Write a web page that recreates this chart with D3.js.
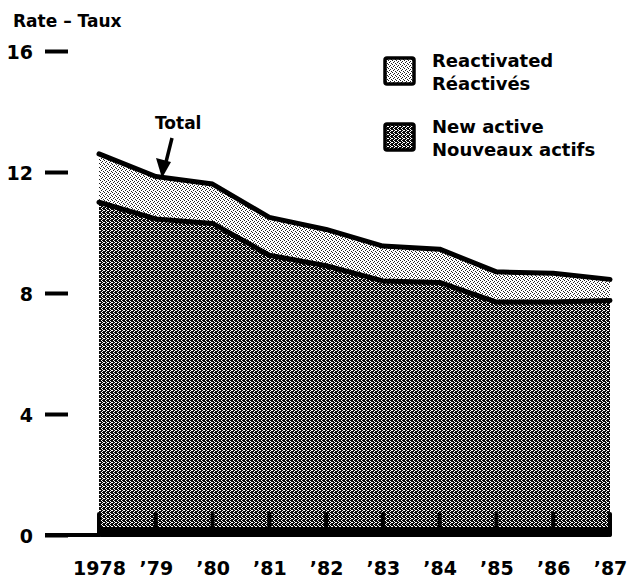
<!DOCTYPE html>
<html>
<head>
<meta charset="utf-8">
<script src="https://cdn.jsdelivr.net/npm/d3@7"></script>
<style>
  html, body { margin: 0; padding: 0; background: #fff; }
  svg { display: block; }
  text { font-family: "DejaVu Sans", sans-serif; font-weight: bold; fill: #000; }
</style>
</head>
<body>
<svg id="chart" width="627" height="580"></svg>
<script>
// data
const years = [1978, 1979, 1980, 1981, 1982, 1983, 1984, 1985, 1986, 1987]
const yearLabels = ['1978', '\u201979', '\u201980', '\u201981', '\u201982', '\u201983', '\u201984', '\u201985', '\u201986', '\u201987']
const newActive = [11.0, 10.45, 10.3, 9.25, 8.9, 8.4, 8.35, 7.7, 7.7, 7.75]
const reactivated = [1.6, 1.4, 1.3, 1.25, 1.2, 1.15, 1.1, 1.0, 0.95, 0.7]
const yTicks = [0, 4, 8, 12, 16]

const svg = d3.select('#chart')

const x = d3.scalePoint().domain(yearLabels).range([99, 610])
const y = d3.scaleLinear().domain([0, 16]).range([535, 51])

// halftone fills
const defs = svg.append('defs')
const pd = defs.append('pattern').attr('id', 'dark').attr('patternUnits', 'userSpaceOnUse').attr('width', 4).attr('height', 4)
pd.append('rect').attr('width', 4).attr('height', 4).attr('fill', '#0a0a0a')
;[[1, 0], [2, 1], [0, 2], [3, 2], [2, 3]].forEach(function (p) {
    pd.append('rect').attr('x', p[0]).attr('y', p[1]).attr('width', 1).attr('height', 1).attr('fill', '#fff')
})
const pl = defs.append('pattern').attr('id', 'light').attr('patternUnits', 'userSpaceOnUse').attr('width', 4).attr('height', 4)
pl.append('rect').attr('width', 4).attr('height', 4).attr('fill', '#fff')
;[[0, 0], [2, 1], [1, 2], [3, 3]].forEach(function (p) {
    pl.append('rect').attr('x', p[0]).attr('y', p[1]).attr('width', 1).attr('height', 1).attr('fill', '#222')
})

const rows = yearLabels.map(function (lab, i) { return { label: lab, newActive: newActive[i], reactivated: reactivated[i] } })
const series = d3.stack().keys(['newActive', 'reactivated'])(rows)

const area = d3.area()
    .x(function (d) { return x(d.data.label) })
    .y0(function (d) { return y(d[0]) })
    .y1(function (d) { return y(d[1]) })

svg.append('g').selectAll('path.band').data(series).join('path').attr('class', 'band')
    .attr('fill', function (d) { return d.key === 'newActive' ? 'url(#dark)' : 'url(#light)' })
    .attr('d', area)

const line = d3.line()
    .x(function (d) { return x(d.data.label) })
    .y(function (d) { return y(d[1]) })

svg.append('g').selectAll('path.edge').data(series).join('path').attr('class', 'edge')
    .attr('fill', 'none').attr('stroke', '#000').attr('stroke-width', 5)
    .attr('stroke-linecap', 'round').attr('stroke-linejoin', 'round')
    .attr('d', function (d) { return line(d) })

// base band under the areas and short year marks
svg.append('line').attr('x1', 45).attr('x2', 100).attr('y1', y(0)).attr('y2', y(0))
    .attr('stroke', '#000').attr('stroke-width', 4)
svg.append('rect').attr('x', x(yearLabels[0]) - 2).attr('y', y(0) - 8)
    .attr('width', x(yearLabels[9]) - x(yearLabels[0]) + 4).attr('height', 10).attr('rx', 4).attr('fill', '#000')
svg.append('g').selectAll('line.ymark').data(yearLabels).join('line').attr('class', 'ymark')
    .attr('x1', function (d) { return x(d) }).attr('x2', function (d) { return x(d) })
    .attr('y1', y(0) - 21).attr('y2', y(0))
    .attr('stroke', '#000').attr('stroke-width', 4).attr('stroke-linecap', 'round')

// y axis
const yAxis = svg.append('g').attr('transform', 'translate(68,0)')
    .call(d3.axisLeft(y).tickValues(yTicks).tickSize(23).tickPadding(12).tickFormat(d3.format('d')))
yAxis.select('.domain').remove()
yAxis.selectAll('.tick line').attr('stroke', '#000').attr('stroke-width', 4)
yAxis.selectAll('.tick text').attr('font-size', 19).attr('dy', '0.38em')
    .style('font-family', '"DejaVu Sans", sans-serif').style('font-weight', 'bold')

// x axis labels
const xAxis = svg.append('g').attr('transform', 'translate(0,' + y(0) + ')')
    .call(d3.axisBottom(x).tickSize(0).tickPadding(0))
xAxis.select('.domain').remove()
xAxis.selectAll('.tick text').attr('y', 40).attr('dy', 0).attr('font-size', 19)
    .style('font-family', '"DejaVu Sans", sans-serif').style('font-weight', 'bold')

svg.append('text').attr('x', 13).attr('y', 27).attr('font-size', 17).text('Rate \u2013 Taux')

// Total pointer
svg.append('text').attr('x', 155).attr('y', 129).attr('font-size', 17).text('Total')
svg.append('line').attr('x1', 172).attr('y1', 138).attr('x2', 166).attr('y2', 162)
    .attr('stroke', '#000').attr('stroke-width', 3.5)
svg.append('path').attr('d', 'M156,158 L171,162 L162,178 Z').attr('fill', '#000')

// legend
const legendItems = [
    { fill: 'url(#light)', lines: ['Reactivated', 'R\u00e9activ\u00e9s'], y: 58 },
    { fill: 'url(#dark)', lines: ['New active', 'Nouveaux actifs'], y: 124 }
]
const lg = svg.append('g').selectAll('g').data(legendItems).join('g')
lg.append('rect').attr('x', 385).attr('y', function (d) { return d.y }).attr('width', 29).attr('height', 26)
    .attr('fill', function (d) { return d.fill }).attr('stroke', '#000').attr('stroke-width', 3.5).attr('rx', 2)
lg.append('text').attr('x', 432).attr('y', function (d) { return d.y + 9 }).attr('font-size', 18).text(function (d) { return d.lines[0] })
lg.append('text').attr('x', 432).attr('y', function (d) { return d.y + 32 }).attr('font-size', 18).text(function (d) { return d.lines[1] })
</script>
</body>
</html>
